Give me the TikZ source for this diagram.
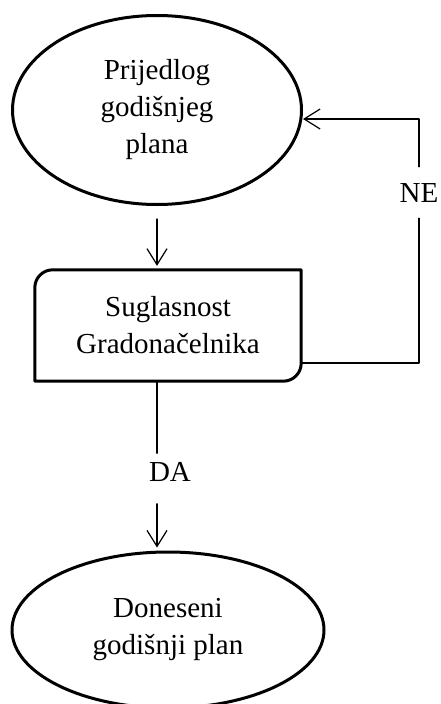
\documentclass[tikz,border=0pt]{standalone}
\usepackage{fontspec}
\setmainfont{Liberation Serif}
\usetikzlibrary{shapes.geometric,arrows.meta}
\begin{document}
\begin{tikzpicture}[
		x=1pt,y=-1pt,
		>={Straight Barb[length=16pt,width=20pt]},
		line cap=round,
		line join=round,
		txt/.style={font=\fontsize{29}{37}\selectfont,align=center,inner sep=0pt},
		oval/.style={txt,ellipse,draw,line width=3pt},
		conn/.style={line width=1.2pt}
		]
		\useasboundingbox (0,0) rectangle (440,704);
		\node[oval,minimum width=289pt,minimum height=189pt] (prijedlog) at (157,110) {Prijedlog\\godišnjeg\\plana};
		\node[txt,minimum width=266pt,minimum height=111pt] (suglasnost) at (168,325.5) {Suglasnost\\Gradonačelnika};
		\draw[line width=3pt] (suglasnost.south west) -- ([yshift=-18pt]suglasnost.north west) .. controls ([yshift=-8pt]suglasnost.north west) and ([xshift=8pt]suglasnost.north west) .. ([xshift=18pt]suglasnost.north west) -- (suglasnost.north east) -- ([yshift=18pt]suglasnost.south east) .. controls ([yshift=8pt]suglasnost.south east) and ([xshift=-8pt]suglasnost.south east) .. ([xshift=-18pt]suglasnost.south east) -- cycle;
		\node[oval,minimum width=312pt,minimum height=156pt] (doneseni) at (168,630) {Doneseni\\godišnji plan};
		\node[txt] (da) at (170,471.5) {DA};
		\node[txt] (ne) at (419,193) {NE};
		\begin{scope}[conn]
		\draw[->,shorten <=13pt,shorten >=4pt] (prijedlog.south) -- (prijedlog.south |- suglasnost.north);
		\draw[shorten >=8.5pt] (prijedlog.south |- suglasnost.south) -- (prijedlog.south |- da.north);
		\draw[->,shorten <=22.5pt,shorten >=3pt] (prijedlog.south |- da.south) -- (prijedlog.south |- doneseni.north);
		\draw[shorten >=15.5pt] ([yshift=-37.5pt]suglasnost.east) -| (ne.south);
		\draw[->,shorten <=16.5pt] (ne.north) |- ([yshift=-9pt]prijedlog.east);
		\end{scope}
		\end{tikzpicture}
\end{document}
